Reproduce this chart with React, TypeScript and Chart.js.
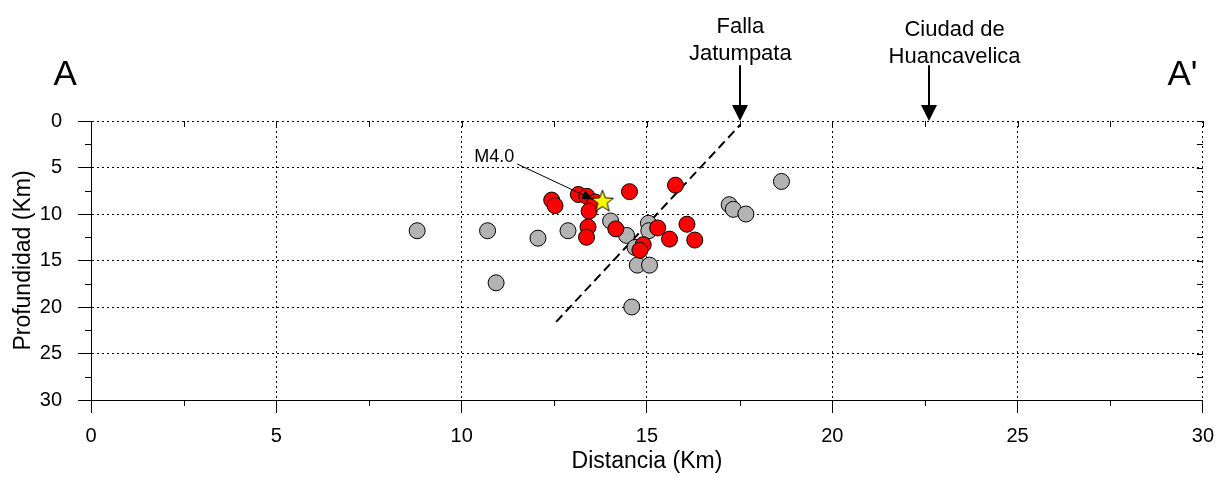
import React, { useEffect, useRef } from 'react';
import { Chart, registerables } from 'chart.js';

Chart.register(...registerables);

// ---- Data ----
const majorTicks = [0, 5, 10, 15, 20, 25, 30];
const minorTicks = [2.5, 7.5, 12.5, 17.5, 22.5, 27.5];

const grayX = [8.8, 10.7, 12.06, 12.87, 10.93, 14.02, 14.45, 15.04, 15.05, 14.68, 14.74, 15.07, 14.59, 17.22, 17.33, 17.67, 18.63];
const grayY = [11.8, 11.8, 12.6, 11.8, 17.4, 10.75, 12.3, 11.0, 11.8, 13.6, 15.5, 15.5, 20.0, 9.0, 9.5, 10.0, 6.5];

const redX = [12.43, 12.52, 13.15, 13.38, 13.6, 13.44, 13.41, 13.37, 14.53, 15.77, 14.16, 15.29, 16.08, 15.61, 16.29, 14.9, 14.81];
const redY = [8.5, 9.1, 7.9, 8.1, 8.7, 9.7, 11.4, 12.5, 7.6, 6.9, 11.6, 11.5, 11.1, 12.7, 12.8, 13.3, 13.9];

const starX = [13.8];
const starY = [8.57];

const faultX = [12.55, 17.52];
const faultY = [21.6, 0.4];

// M4.0 annotation: label position, leader line start and end
const m4Label = 'M4.0';
const m4LabelPos = [10.88, 3.9];
const m4Line = [[11.5, 4.62], [13.55, 8.45]];

// Surface markers: label lines, x-position, label depth rows
const markerNames = [['Falla', 'Jatumpata'], ['Ciudad de', 'Huancavelica']];
const markerX = [17.5, 22.6];
const markerLabelX = [17.52, 23.3];
const markerLabelDepth = [[-9.46, -6.56], [-9.14, -6.24]];
const markerArrowTop = -6.0;

const sectionLabels = ['A', "A'"];
const sectionLabelX = [-0.7, 29.45];
const sectionLabelDepth = -3.9;

const FONT = "'Liberation Sans', Arial, Helvetica, sans-serif";

function makeStar(): HTMLCanvasElement {
  const c = document.createElement('canvas');
  const s = 28;
  c.width = s;
  c.height = s;
  const g = c.getContext('2d')!;
  const cx = s / 2, cy = s / 2 + 1;
  const R = 11.5, r = 4.8;
  g.beginPath();
  for (let i = 0; i < 10; i++) {
    const rad = i % 2 === 0 ? R : r;
    const a = -Math.PI / 2 + (i * Math.PI) / 5;
    const px = cx + rad * Math.cos(a);
    const py = cy + rad * Math.sin(a);
    if (i === 0) g.moveTo(px, py);
    else g.lineTo(px, py);
  }
  g.closePath();
  g.fillStyle = '#ffff00';
  g.fill();
  g.strokeStyle = '#000';
  g.lineWidth = 1;
  g.stroke();
  return c;
}

const decorPlugin = {
  id: 'decor',
  afterDraw(chart: any) {
    const { ctx, chartArea: ca, scales } = chart;
    const x = scales.x, y = scales.y;
    const al = (v: number) => Math.round(v) + 0.5;
    ctx.save();
    ctx.strokeStyle = '#000';
    ctx.lineWidth = 1;
    ctx.setLineDash([]);
    ctx.beginPath();
    for (const v of minorTicks) {
      const px = al(x.getPixelForValue(v));
      ctx.moveTo(px, ca.bottom);
      ctx.lineTo(px, ca.bottom + 6);
      const py = al(y.getPixelForValue(v));
      ctx.moveTo(ca.left, py);
      ctx.lineTo(ca.left - 6, py);
    }
    for (const v of [...majorTicks, ...minorTicks]) {
      const px = al(x.getPixelForValue(v));
      ctx.moveTo(px, ca.top);
      ctx.lineTo(px, ca.top + 6);
      const py = al(y.getPixelForValue(v));
      ctx.moveTo(ca.right, py);
      ctx.lineTo(ca.right - 6, py);
    }
    ctx.stroke();

    // surface markers
    ctx.fillStyle = '#000';
    ctx.font = `22px ${FONT}`;
    ctx.textAlign = 'center';
    ctx.textBaseline = 'alphabetic';
    markerX.forEach((mx, i) => {
      const px = Math.round(x.getPixelForValue(mx));
      const yTop = y.getPixelForValue(markerArrowTop);
      const yTip = y.getPixelForValue(0);
      ctx.lineWidth = 2;
      ctx.beginPath();
      ctx.moveTo(px, yTop);
      ctx.lineTo(px, yTip - 12);
      ctx.stroke();
      ctx.beginPath();
      ctx.moveTo(px - 8, yTip - 16);
      ctx.lineTo(px + 8, yTip - 16);
      ctx.lineTo(px, yTip);
      ctx.closePath();
      ctx.fill();
      const lx = x.getPixelForValue(markerLabelX[i]);
      markerNames[i].forEach((t, j) => {
        ctx.fillText(t, lx, y.getPixelForValue(markerLabelDepth[i][j]));
      });
    });

    // A / A'
    ctx.font = `35px ${FONT}`;
    sectionLabels.forEach((t, i) => {
      ctx.fillText(t, x.getPixelForValue(sectionLabelX[i]), y.getPixelForValue(sectionLabelDepth));
    });

    // M4.0 label and leader
    ctx.font = `18px ${FONT}`;
    ctx.textBaseline = 'middle';
    ctx.fillText(m4Label, x.getPixelForValue(m4LabelPos[0]), y.getPixelForValue(m4LabelPos[1]));
    const x1 = x.getPixelForValue(m4Line[0][0]), y1 = y.getPixelForValue(m4Line[0][1]);
    const x2 = x.getPixelForValue(m4Line[1][0]), y2 = y.getPixelForValue(m4Line[1][1]);
    ctx.lineWidth = 1;
    ctx.beginPath();
    ctx.moveTo(x1, y1);
    ctx.lineTo(x2, y2);
    ctx.stroke();
    const ang = Math.atan2(y2 - y1, x2 - x1);
    const hl = 11, hw = 4.5;
    ctx.beginPath();
    ctx.moveTo(x2, y2);
    ctx.lineTo(x2 - hl * Math.cos(ang) + hw * Math.sin(ang), y2 - hl * Math.sin(ang) - hw * Math.cos(ang));
    ctx.lineTo(x2 - hl * Math.cos(ang) - hw * Math.sin(ang), y2 - hl * Math.sin(ang) + hw * Math.cos(ang));
    ctx.closePath();
    ctx.fill();
    ctx.restore();
  },
};

export default function App() {
  const ref = useRef<HTMLCanvasElement | null>(null);

  useEffect(() => {
    document.body.style.margin = '0';
    const canvas = ref.current!;
    Chart.defaults.font.family = FONT;
    Chart.defaults.color = '#000';
    const star = makeStar();

    const chart = new Chart(canvas, {
      type: 'scatter',
      data: {
        datasets: [
          {
            label: 'M4.0',
            data: starX.map((v, i) => ({ x: v, y: starY[i] })),
            pointStyle: star as any,
            pointRadius: 12,
            order: 0,
          },
          {
            label: 'red',
            data: redX.map((v, i) => ({ x: v, y: redY[i] })),
            backgroundColor: '#ff0000',
            borderColor: '#000',
            borderWidth: 1,
            pointRadius: 8,
            order: 1,
          },
          {
            label: 'gray',
            data: grayX.map((v, i) => ({ x: v, y: grayY[i] })),
            backgroundColor: '#b3b3b3',
            borderColor: '#000',
            borderWidth: 1,
            pointRadius: 8,
            order: 2,
          },
          {
            type: 'line' as any,
            label: 'fault',
            data: faultX.map((v, i) => ({ x: v, y: faultY[i] })),
            borderColor: '#000',
            borderWidth: 2,
            borderDash: [9, 5],
            pointRadius: 0,
            showLine: true,
            fill: false,
            order: 3,
          } as any,
        ],
      },
      options: {
        responsive: false,
        animation: false,
        events: [],
        layout: { padding: { top: 121, right: 20, left: 0, bottom: 0 } },
        plugins: { legend: { display: false }, tooltip: { enabled: false } },
        scales: {
          x: {
            type: 'linear',
            min: 0,
            max: 30,
            afterFit: (s: any) => { s.height = 77; },
            ticks: { stepSize: 5, font: { size: 20 }, color: '#000', padding: 11, maxRotation: 0 },
            grid: { color: '#000', lineWidth: 1, tickColor: '#000', tickLength: 13, drawTicks: true },
            border: { display: true, color: '#000', width: 1, dash: [2, 3] },
            title: { display: true, text: 'Distancia (Km)', font: { size: 23 }, color: '#000', padding: { top: 0, bottom: 2 } },
          },
          y: {
            type: 'linear',
            reverse: true,
            min: 0,
            max: 30,
            afterFit: (s: any) => { s.width = 91; },
            ticks: { stepSize: 5, font: { size: 20 }, color: '#000', padding: 16 },
            grid: { color: '#000', lineWidth: 1, tickColor: '#000', tickLength: 13, drawTicks: true },
            border: { display: true, color: '#000', width: 1, dash: [2, 3] },
            title: { display: true, text: 'Profundidad (Km)', font: { size: 23 }, color: '#000', padding: { top: 10, bottom: 0 } },
          },
        },
      },
      plugins: [decorPlugin],
    });
    return () => chart.destroy();
  }, []);

  return (
    <div style={{ width: 1225, height: 477 }}>
      <canvas ref={ref} width={1225} height={477} style={{ display: 'block' }} />
    </div>
  );
}
